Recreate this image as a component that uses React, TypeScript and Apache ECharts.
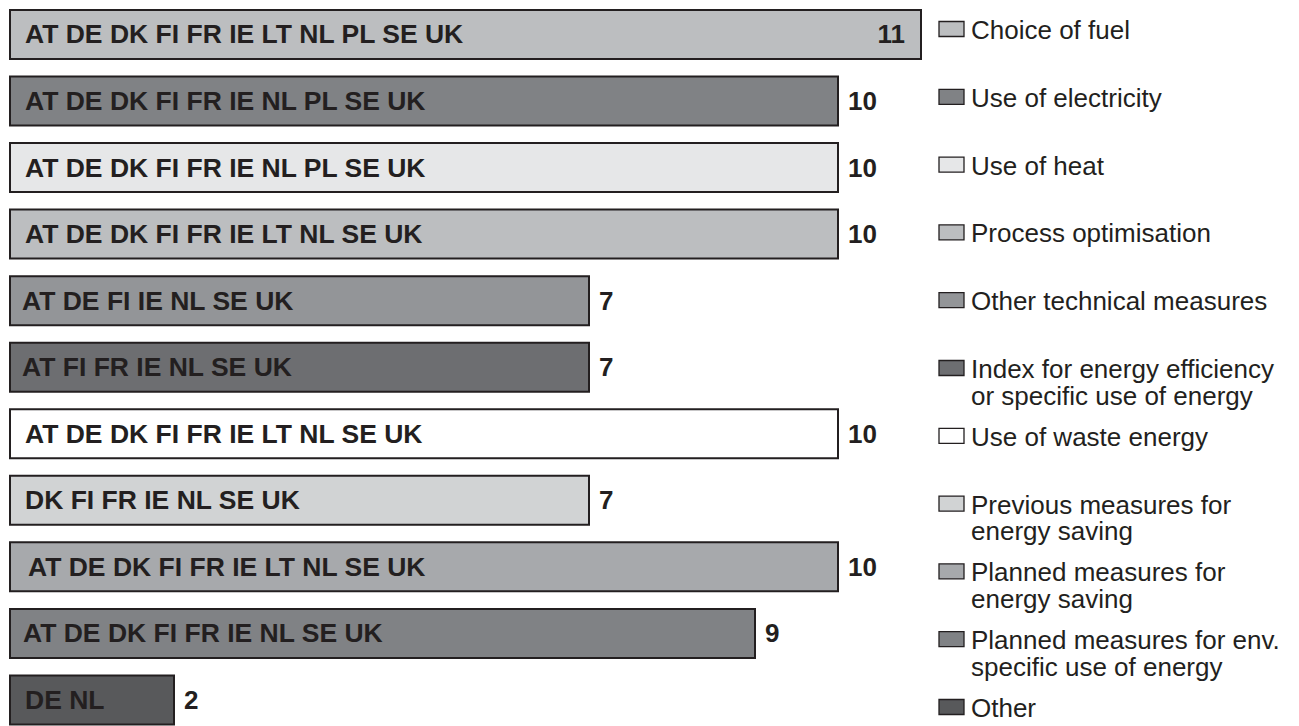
import React, { useEffect, useRef } from "react";
import * as echarts from "echarts";

const categories = [
  "Choice of fuel",
  "Use of electricity",
  "Use of heat",
  "Process optimisation",
  "Other technical measures",
  "Index for energy efficiency or specific use of energy",
  "Use of waste energy",
  "Previous measures for energy saving",
  "Planned measures for energy saving",
  "Planned measures for env. specific use of energy",
  "Other",
];

const legendLabels = [
  "Choice of fuel",
  "Use of electricity",
  "Use of heat",
  "Process optimisation",
  "Other technical measures",
  "Index for energy efficiency\nor specific use of energy",
  "Use of waste energy",
  "Previous measures for\nenergy saving",
  "Planned measures for\nenergy saving",
  "Planned measures for env.\nspecific use of energy",
  "Other",
];

const countries = [
  "AT DE DK FI FR IE LT NL PL SE UK",
  "AT DE DK FI FR IE NL PL SE UK",
  "AT DE DK FI FR IE NL PL SE UK",
  "AT DE DK FI FR IE LT NL SE UK",
  "AT DE FI IE NL SE UK",
  "AT FI FR IE NL SE UK",
  "AT DE DK FI FR IE LT NL SE UK",
  "DK FI FR IE NL SE UK",
  "AT DE DK FI FR IE LT NL SE UK",
  "AT DE DK FI FR IE NL SE UK",
  "DE NL",
];

const values = [11, 10, 10, 10, 7, 7, 10, 7, 10, 9, 2];

const colors = [
  "#bcbec0",
  "#808285",
  "#e6e7e8",
  "#bcbec0",
  "#939598",
  "#6d6e71",
  "#ffffff",
  "#d1d3d4",
  "#a7a9ac",
  "#808285",
  "#58595b",
];

const labelOffsets = [16, 16, 16, 16, 13, 13, 16, 16, 19, 14, 16];

const FONT = "'Liberation Sans', Arial, Helvetica, sans-serif";
const DARK = "#231f20";

export default function App() {
  const ref = useRef<HTMLDivElement>(null);

  useEffect(() => {
    if (!ref.current) return;
    const chart = echarts.init(ref.current, undefined, { renderer: "svg" });

    const legendX = 939;
    const legendTop = 29;
    const legendPitch = 67.8;
    const lineH = 26.5;

    const graphic: any[] = [];
    legendLabels.forEach((lab, i) => {
      const cy = legendTop + legendPitch * i;
      graphic.push({
        type: "rect",
        shape: { x: legendX, y: cy - 7.5, width: 25, height: 15 },
        style: { fill: colors[i], stroke: DARK, lineWidth: 1.3 },
      });
      lab.split("\n").forEach((line, j) => {
        graphic.push({
          type: "text",
          x: 971,
          y: cy + 1 + j * lineH,
          style: {
            text: line,
            fill: DARK,
            font: `26px ${FONT}`,
            verticalAlign: "middle",
            align: "left",
          },
        });
      });
    });

    chart.setOption({
      animation: false,
      backgroundColor: "#ffffff",
      grid: {
        left: 9,
        top: 1.2,
        width: 913,
        height: 732,
        containLabel: false,
        outerBoundsMode: "none",
      },
      xAxis: {
        type: "value",
        min: 0,
        max: 11,
        show: false,
      },
      yAxis: {
        type: "category",
        data: categories,
        inverse: true,
        show: false,
      },
      series: [
        {
          type: "bar",
          barWidth: 51,
          data: values.map((v, i) => ({
            value: v,
            itemStyle: { color: colors[i] },
            label: { distance: labelOffsets[i] },
          })),
          itemStyle: { borderColor: DARK, borderWidth: 2 },
          label: {
            show: true,
            position: "insideLeft",
            formatter: (p: any) => countries[p.dataIndex],
            color: DARK,
            fontFamily: FONT,
            fontWeight: "bold",
            fontSize: 26.5,
          },
          silent: true,
        },
        {
          type: "bar",
          barWidth: 51,
          barGap: "-100%",
          data: values.map((v, i) => ({
            value: v,
            label:
              i === 0
                ? { position: "insideRight", distance: 17 }
                : { position: "right", distance: 9 },
          })),
          itemStyle: { color: "transparent", borderWidth: 0 },
          label: {
            show: true,
            formatter: (p: any) => String(p.value),
            color: DARK,
            fontFamily: FONT,
            fontWeight: "bold",
            fontSize: 26,
          },
          silent: true,
          z: 3,
        },
      ],
      graphic,
    });

    return () => chart.dispose();
  }, []);

  return (
    <div
      ref={ref}
      style={{ position: "fixed", left: 0, top: 0, width: 1299, height: 726 }}
    />
  );
}
